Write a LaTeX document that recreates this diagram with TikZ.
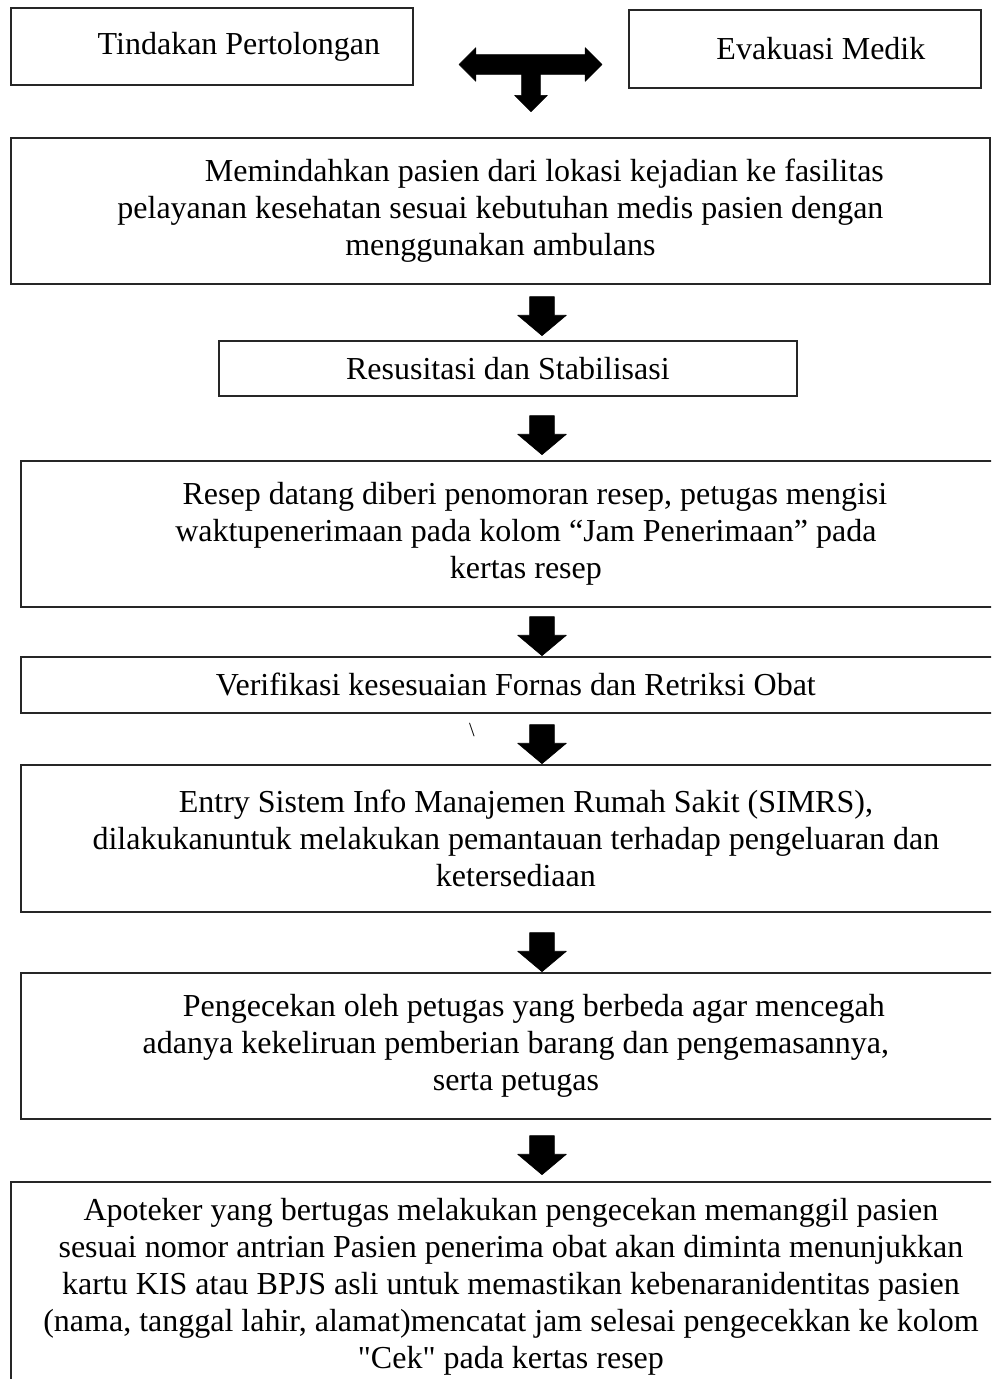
\documentclass[tikz,border=0pt]{standalone}
\usepackage{fontspec}
\setmainfont{Liberation Serif}
\usetikzlibrary{shapes.arrows}
\tikzstyle{kotak}=[draw=black!85, line width=0.9pt, align=center,
  inner sep=0pt, anchor=north west, font=\fontsize{16}{18.5}\selectfont]
\tikzstyle{panah}=[single arrow, fill=black, draw=black, line width=0.3pt,
  line join=round, inner sep=6pt, shape border rotate=270,
  minimum height=19.5pt, single arrow head extend=6pt, single arrow tip angle=100]
\tikzstyle{panahdua}=[double arrow, fill=black, draw=black, line width=0.3pt,
  line join=round, inner sep=4.75pt, minimum height=71.5pt,
  double arrow head extend=3.5pt, double arrow tip angle=90]
\newcommand{\langkah}[4]{node (#1) [kotak, minimum width=#2*0.5pt,
  minimum height=#3*0.5pt] {#4}}
\newcommand{\panah}[1]{node (#1) [panah] {}}

\begin{document}
\begin{tikzpicture}[x=0.5pt, y=-0.5pt]
  \useasboundingbox (0,0) rectangle (991,1379);
  \clip (0,0) rectangle (991,1379);

  % Draw diagram elements
  \path (10,7) \langkah{tindakan}{402}{77}{\hspace*{27pt}Tindakan Pertolongan};
  \path (628,9) \langkah{evakuasi}{352}{78}{\hspace*{16pt}Evakuasi Medik};
  \path (10,137) \langkah{pindah}{979}{146}{\hspace*{44pt}Memindahkan pasien dari lokasi kejadian ke fasilitas\\
    pelayanan kesehatan sesuai kebutuhan medis pasien dengan\\
    menggunakan ambulans};
  \path (218,340) \langkah{resusitasi}{578}{55}{Resusitasi dan Stabilisasi};
  \path (20,460) \langkah{resep}{1010}{146}{\hspace*{9pt}Resep datang diberi penomoran resep, petugas mengisi\\
    waktupenerimaan pada kolom “Jam Penerimaan” pada\\
    kertas resep};
  \path (20,656) \langkah{verifikasi}{990}{56}{Verifikasi kesesuaian Fornas dan Retriksi Obat};
  \path (20,764) \langkah{entry}{990}{147}{\hspace*{10pt}Entry Sistem Info Manajemen Rumah Sakit (SIMRS),\\
    dilakukanuntuk melakukan pemantauan terhadap pengeluaran dan\\
    ketersediaan};
  \path (20,972) \langkah{cek}{990}{146}{\hspace*{18pt}Pengecekan oleh petugas yang berbeda agar mencegah\\
    adanya kekeliruan pemberian barang dan pengemasannya,\\
    serta petugas};
  \path (10,1181) \langkah{apoteker}{1000}{209}{Apoteker yang bertugas melakukan pengecekan memanggil pasien\\
    sesuai nomor antrian Pasien penerima obat akan diminta menunjukkan\\
    kartu KIS atau BPJS asli untuk memastikan kebenaranidentitas pasien\\
    (nama, tanggal lahir, alamat)mencatat jam selesai pengecekkan ke kolom\\
    \textquotedbl Cek\textquotedbl{} pada kertas resep};

  % panah
  \node (kiri) [panahdua] at (530.5,64.5) {};
  \node (bawah) [panah, inner sep=4.5pt, minimum height=21.5pt,
    single arrow head extend=3.5pt, single arrow tip angle=90] at (531,85.5) {};
  \path (542,311) \panah{p1};
  \path (542,430) \panah{p2};
  \path (542,631) \panah{p3};
  \path (542,739) \panah{p4};
  \path (542,947) \panah{p5};
  \path (542,1150) \panah{p6};
  \node (garis) at (472,730) {\fontsize{10}{12}\selectfont\textbackslash};
\end{tikzpicture}
\end{document}
